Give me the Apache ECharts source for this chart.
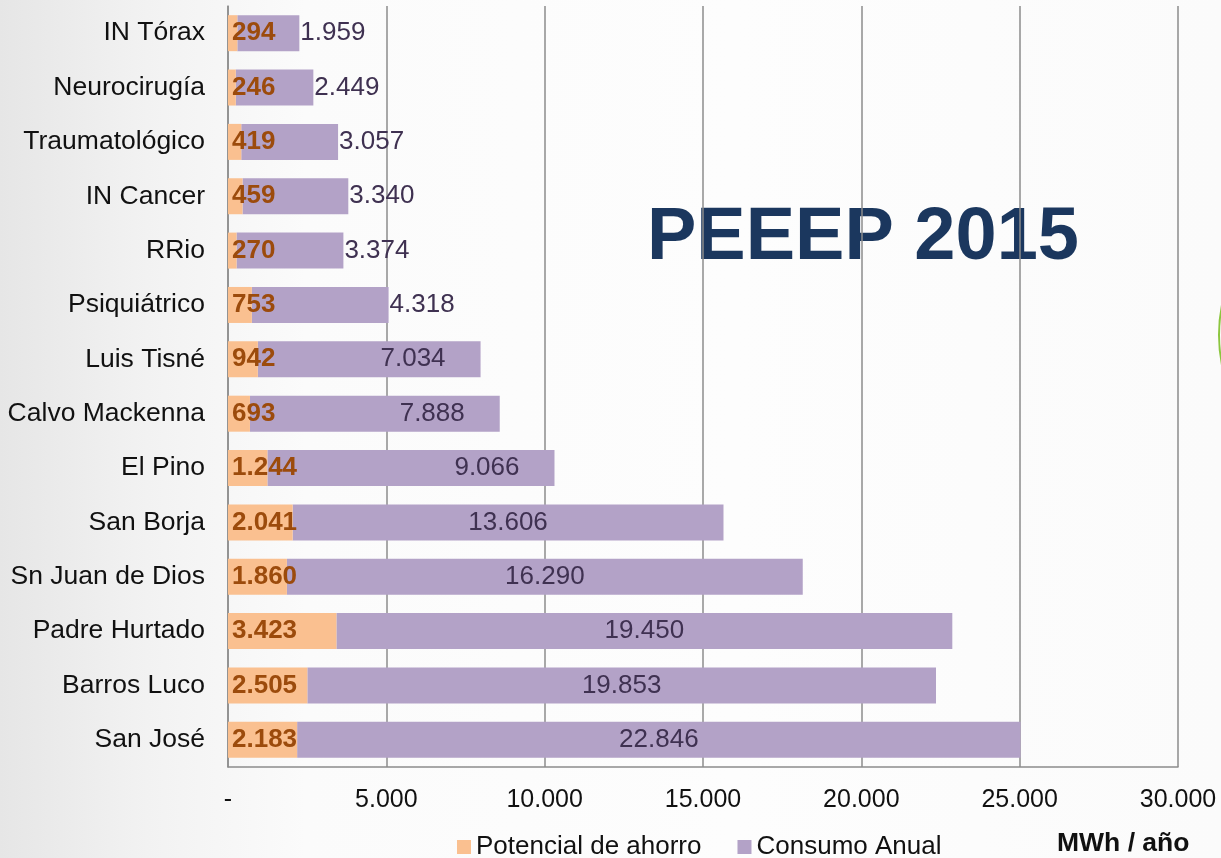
<!DOCTYPE html>
<html>
<head>
<meta charset="utf-8">
<script src="https://cdn.jsdelivr.net/npm/echarts@6/dist/echarts.min.js"></script>
<style>
  html, body { margin: 0; padding: 0; }
  body {
    width: 1221px; height: 858px; overflow: hidden;
    background: linear-gradient(to right, #e6e6e6 0%, #f2f2f2 12%, #fbfbfb 25%, #fdfdfd 60%, #fbfbfb 100%);
  }
  #chart { width: 1221px; height: 858px; }
</style>
</head>
<body>
<div id="chart"></div>
<script>
// Categories listed top to bottom
const categories = ['IN Tórax', 'Neurocirugía', 'Traumatológico', 'IN Cancer', 'RRio', 'Psiquiátrico',
  'Luis Tisné', 'Calvo Mackenna', 'El Pino', 'San Borja', 'Sn Juan de Dios', 'Padre Hurtado',
  'Barros Luco', 'San José'];
const potencialAhorro = [294, 246, 419, 459, 270, 753, 942, 693, 1244, 2041, 1860, 3423, 2505, 2183];
const consumoAnual = [1959, 2449, 3057, 3340, 3374, 4318, 7034, 7888, 9066, 13606, 16290, 19450, 19853, 22846];
const xTicks = [0, 5000, 10000, 15000, 20000, 25000, 30000];
const seriesNames = ['Potencial de ahorro', 'Consumo Anual'];
const unitText = 'MWh / año';
const titleText = 'PEEEP 2015';

function fmt(v) {
  if (v === 0) return '-';
  return String(Math.round(v)).replace(/\B(?=(\d{3})+(?!\d))/g, '.');
}

const FONT = 'Liberation Sans, Arial, sans-serif';
const chart = echarts.init(document.getElementById('chart'), null, { renderer: 'canvas' });

const consumoData = consumoAnual.map(function (v) {
  let label;
  if (v < 5000) label = { position: 'right', distance: 1 };
  else if (v < 10000) label = { position: 'insideRight', distance: 35 };
  else label = { position: 'inside' };
  return { value: v, label: label };
});

chart.setOption({
  backgroundColor: 'transparent',
  animation: false,
  grid: { left: 228, right: 43, top: 6, bottom: 91, containLabel: false },
  legend: {
    data: seriesNames,
    left: 452,
    top: 829,
    itemWidth: 14,
    itemHeight: 14,
    itemGap: 36,
    icon: 'rect',
    textStyle: { fontFamily: FONT, fontSize: 26, color: '#111' }
  },
  xAxis: {
    type: 'value',
    min: 0,
    max: 30000,
    interval: 5000,
    axisLine: { show: true, lineStyle: { color: '#8c8c8c', width: 1.5 } },
    axisTick: { show: false },
    splitLine: { show: true, lineStyle: { color: '#8c8c8c', width: 1.5 } },
    axisLabel: {
      formatter: function (v) { return fmt(v); },
      fontFamily: FONT, fontSize: 25, color: '#111', margin: 21
    }
  },
  yAxis: {
    type: 'category',
    data: categories,
    inverse: true,
    axisLine: { show: true, lineStyle: { color: '#8c8c8c', width: 1.5 } },
    axisTick: { show: false },
    axisLabel: { fontFamily: FONT, fontSize: 26.5, color: '#111', margin: 23 }
  },
  series: [
    {
      name: seriesNames[0],
      type: 'bar',
      stack: 'total',
      data: potencialAhorro,
      barWidth: 36,
      itemStyle: { color: '#fac090' },
      label: {
        show: true,
        position: 'insideLeft',
        distance: 4,
        formatter: function (p) { return fmt(p.value); },
        fontFamily: FONT, fontSize: 26, fontWeight: 'bold', color: '#9c4b0c'
      },
      z: 3
    },
    {
      name: seriesNames[1],
      type: 'bar',
      stack: 'total',
      data: consumoData,
      barWidth: 36,
      itemStyle: { color: '#b3a2c7' },
      label: {
        show: true,
        formatter: function (p) { return fmt(p.value); },
        fontFamily: FONT, fontSize: 26, color: '#3f3151'
      },
      z: 2
    }
  ],
  graphic: [
    {
      type: 'text',
      left: 647,
      top: 202,
      z: -1,
      style: {
        text: titleText,
        fontFamily: FONT,
        fontSize: 74,
        fontWeight: 'bold',
        fill: '#1b375e'
      }
    },
    {
      type: 'text',
      left: 1057,
      top: 830,
      style: {
        text: unitText,
        fontFamily: FONT,
        fontSize: 26.5,
        fontWeight: 'bold',
        fill: '#111'
      }
    },
    {
      type: 'circle',
      shape: { cx: 1370, cy: 335, r: 151 },
      style: { fill: 'none', stroke: '#8cc63f', lineWidth: 2 }
    }
  ]
});
</script>
</body>
</html>
